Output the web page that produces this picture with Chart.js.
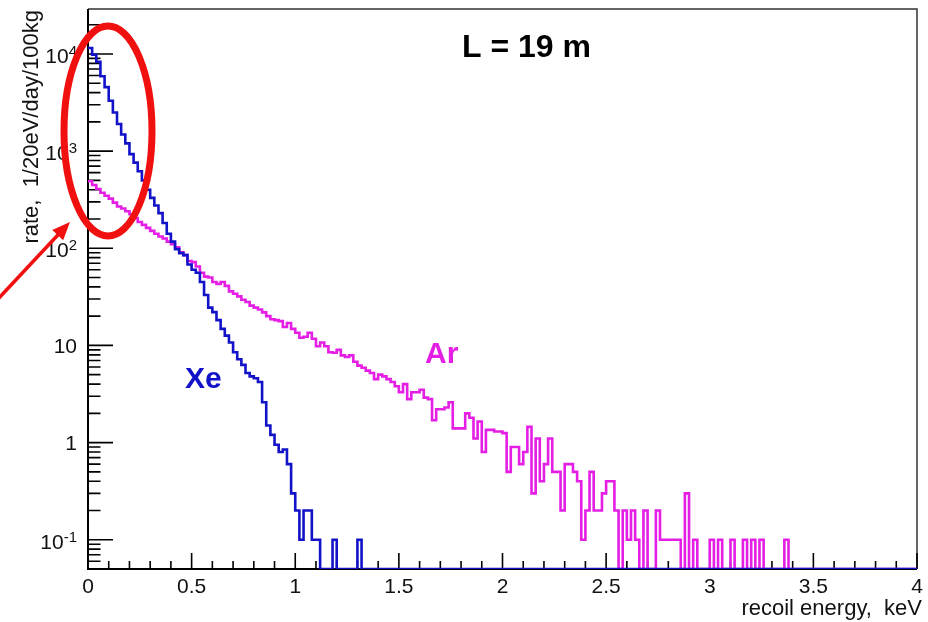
<!DOCTYPE html>
<html>
<head>
<meta charset="utf-8">
<script src="https://cdn.jsdelivr.net/npm/chart.js@4.4.1/dist/chart.umd.min.js"></script>
<style>
  html, body { margin: 0; padding: 0; background: #fff; }
  #wrap { position: relative; width: 928px; height: 622px; }
</style>
</head>
<body>
<div id="wrap"><canvas id="chart" width="928" height="622"></canvas></div>
<script>
// recoil spectrum, 20 eV bins from 0 to 4 keV
const BIN_WIDTH = 0.02
const X_MIN = 0
const X_MAX = 4
const Y_MIN = 0.05
const Y_MAX = 29000

const xeRate = [
  11500, 9800, 8300, 5900, 4550, 3300, 2500, 1900, 1480, 1200,
  930, 760, 620, 500, 400, 330, 275, 230, 182, 141,
  117, 98, 89, 85, 68, 60, 56, 45, 33, 24.5,
  22, 18.2, 14.8, 12.6, 10.7, 8.5, 7.2, 6.3, 5.2, 4.8,
  4.6, 4.2, 2.6, 1.5, 1.2, 0.95, 0.8, 0.85, 0.6, 0.3,
  0.2, 0.1, 0.2, 0.2, 0.1, 0.1, 0, 0, 0, 0.1,
  0, 0, 0, 0, 0, 0.1, 0, 0, 0, 0,
  0, 0, 0, 0, 0, 0, 0, 0, 0, 0,
  0, 0, 0, 0, 0, 0, 0, 0, 0, 0,
  0, 0, 0, 0, 0, 0, 0, 0, 0, 0,
  0, 0, 0, 0, 0, 0, 0, 0, 0, 0,
  0, 0, 0, 0, 0, 0, 0, 0, 0, 0,
  0, 0, 0, 0, 0, 0, 0, 0, 0, 0,
  0, 0, 0, 0, 0, 0, 0, 0, 0, 0,
  0, 0, 0, 0, 0, 0, 0, 0, 0, 0,
  0, 0, 0, 0, 0, 0, 0, 0, 0, 0,
  0, 0, 0, 0, 0, 0, 0, 0, 0, 0,
  0, 0, 0, 0, 0, 0, 0, 0, 0, 0,
  0, 0, 0, 0, 0, 0, 0, 0, 0, 0,
  0, 0, 0, 0, 0, 0, 0, 0, 0, 0
]

const arRate = [
  490, 447, 407, 372, 347, 324, 295, 269, 257, 240,
  224, 204, 186, 174, 162, 151, 141, 132, 126, 117,
  110, 102, 91, 85, 74, 72, 65, 56, 51, 50,
  45, 43, 45, 41, 36, 34, 32, 29.5, 28, 25.7,
  24.5, 23.4, 21.9, 20, 18.6, 18.2, 17.8, 15.5, 17, 14.8,
  13.5, 12, 12.3, 13.5, 11.7, 9.8, 10.7, 9.8, 8.5, 8.4,
  9.0, 7.9, 7.6, 7.9, 6.8, 6.2, 5.9, 5.5, 5.2, 4.5,
  5.0, 4.8, 4.5, 4.2, 3.8, 3.3, 4.0, 2.8, 3.3, 3.3,
  3.5, 2.9, 2.8, 1.7, 2.2, 2.2, 2.3, 2.6, 1.4, 1.4,
  1.4, 2.0, 1.8, 1.1, 1.65, 0.8, 1.35, 1.35, 1.3, 1.3,
  1.25, 0.5, 0.9, 0.9, 0.6, 0.8, 1.45, 0.3, 1.1, 0.4,
  0.6, 1.1, 0.5, 0.5, 0.2, 0.6, 0.6, 0.5, 0.4, 0.1,
  0.2, 0.5, 0.2, 0.2, 0.3, 0.4, 0.4, 0.2, 0, 0.2,
  0.1, 0.2, 0.1, 0, 0.2, 0, 0, 0.2, 0.1, 0.1,
  0.1, 0.1, 0.1, 0, 0.3, 0, 0.1, 0, 0, 0,
  0.1, 0, 0.1, 0, 0, 0.1, 0, 0, 0.1, 0,
  0.1, 0, 0.1, 0, 0, 0, 0, 0, 0.1, 0,
  0, 0, 0, 0, 0, 0, 0, 0, 0, 0,
  0, 0, 0, 0, 0, 0, 0, 0, 0, 0,
  0, 0, 0, 0, 0, 0, 0, 0, 0, 0
]

const xTickValues = [0, 0.5, 1, 1.5, 2, 2.5, 3, 3.5, 4]
const xTickLabels = ['0', '0.5', '1', '1.5', '2', '2.5', '3', '3.5', '4']
const yTickValues = [0.1, 1, 10, 100, 1000, 10000]
const yTickLabels = [['10', '-1'], ['1', ''], ['10', ''], ['10', '2'], ['10', '3'], ['10', '4']]

const XE_COLOR = '#1212c8'
const AR_COLOR = '#e41ee4'
const FONT = '"Liberation Sans", Arial, Helvetica, sans-serif'

// histogram outline: one point at each bin's low edge, empty bins sit on the frame bottom
function histPoints(rates) {
  const pts = rates.map((v, i) => ({ x: i * BIN_WIDTH, y: v > 0 ? v : Y_MIN }))
  pts.push({ x: rates.length * BIN_WIDTH, y: pts[pts.length - 1].y })
  return pts
}

const rootStyle = {
  id: 'rootStyle',
  beforeDatasetsDraw(chart) {
    const ctx = chart.ctx
    const { left, right, top, bottom } = chart.chartArea
    const xs = chart.scales.x
    const ys = chart.scales.y
    ctx.save()
    // frame
    ctx.strokeStyle = '#333'
    ctx.lineWidth = 1.5
    ctx.beginPath()
    ctx.moveTo(left, top)
    ctx.lineTo(right, top)
    ctx.lineTo(right, bottom)
    ctx.stroke()
    ctx.strokeStyle = '#000'
    ctx.lineWidth = 2
    ctx.beginPath()
    ctx.moveTo(left, top)
    ctx.lineTo(left, bottom)
    ctx.lineTo(right, bottom)
    ctx.stroke()

    // ticks point inward
    ctx.lineWidth = 1.6
    ctx.beginPath()
    for (let k = 0; k <= 40; k++) {
      const px = xs.getPixelForValue(k * 0.1)
      const len = k % 5 === 0 ? 16 : 8
      ctx.moveTo(px, bottom)
      ctx.lineTo(px, bottom - len)
    }
    for (let e = -2; e <= 4; e++) {
      for (let m = 1; m <= 9; m++) {
        const v = m * Math.pow(10, e)
        if (v < Y_MIN || v > Y_MAX) continue
        const py = ys.getPixelForValue(v)
        const len = m === 1 ? 25 : 12.5
        ctx.moveTo(left, py)
        ctx.lineTo(left + len, py)
      }
    }
    ctx.stroke()
    ctx.restore()
  },
  afterDraw(chart) {
    const ctx = chart.ctx
    const xs = chart.scales.x
    const ys = chart.scales.y
    ctx.save()
    ctx.fillStyle = '#111'

    // x tick labels
    ctx.font = '21px ' + FONT
    ctx.textAlign = 'center'
    ctx.textBaseline = 'alphabetic'
    xTickValues.forEach((v, i) => {
      ctx.fillText(xTickLabels[i], xs.getPixelForValue(v), 593)
    })

    // y tick labels with superscript exponents
    yTickValues.forEach((v, i) => {
      const py = ys.getPixelForValue(v)
      const [base, sup] = yTickLabels[i]
      ctx.font = '21px ' + FONT
      const wb = ctx.measureText(base).width
      ctx.font = '15px ' + FONT
      const ws = sup ? ctx.measureText(sup).width : 0
      const xr = 77
      ctx.textAlign = 'left'
      ctx.font = '21px ' + FONT
      ctx.fillText(base, xr - ws - wb, py + (sup ? 9 : 7.5))
      if (sup) {
        ctx.font = '15px ' + FONT
        ctx.fillText(sup, xr - ws, py + 2)
      }
    })

    // axis titles
    ctx.font = '22px ' + FONT
    ctx.textAlign = 'right'
    ctx.fillText('recoil energy,  keV', 922, 615)
    ctx.save()
    ctx.translate(38, 10)
    ctx.rotate(-Math.PI / 2)
    ctx.fillText('rate,  1/20eV/day/100kg', 0, 0)
    ctx.restore()

    // text labels
    ctx.textAlign = 'left'
    ctx.fillStyle = '#000'
    ctx.font = 'bold 32px ' + FONT
    ctx.fillText('L = 19 m', 462, 57)
    ctx.font = 'bold 30px ' + FONT
    ctx.fillStyle = XE_COLOR
    ctx.fillText('Xe', 185, 388)
    ctx.fillStyle = AR_COLOR
    ctx.fillText('Ar', 425, 363)

    // red annotation: ellipse around the low energy part and an arrow
    ctx.strokeStyle = '#f01010'
    ctx.fillStyle = '#f01010'
    ctx.lineWidth = 7
    ctx.beginPath()
    ctx.ellipse(108, 131, 44, 105, 0, 0, Math.PI * 2)
    ctx.stroke()

    const tipX = 70, tipY = 222, tailX = -2, tailY = 299
    const ang = Math.atan2(tipY - tailY, tipX - tailX)
    ctx.lineWidth = 3.5
    ctx.beginPath()
    ctx.moveTo(tailX, tailY)
    ctx.lineTo(tipX - 12 * Math.cos(ang), tipY - 12 * Math.sin(ang))
    ctx.stroke()
    ctx.beginPath()
    ctx.moveTo(tipX, tipY)
    ctx.lineTo(tipX - 18 * Math.cos(ang) + 7.5 * Math.sin(ang), tipY - 18 * Math.sin(ang) - 7.5 * Math.cos(ang))
    ctx.lineTo(tipX - 18 * Math.cos(ang) - 7.5 * Math.sin(ang), tipY - 18 * Math.sin(ang) + 7.5 * Math.cos(ang))
    ctx.closePath()
    ctx.fill()
    ctx.restore()
  }
}

new Chart(document.getElementById('chart'), {
  type: 'line',
  data: {
    datasets: [
      {
        label: 'Xe',
        data: histPoints(xeRate),
        borderColor: XE_COLOR,
        borderWidth: 2.6,
        stepped: 'before',
        pointRadius: 0,
        fill: false
      },
      {
        label: 'Ar',
        data: histPoints(arRate),
        borderColor: AR_COLOR,
        borderWidth: 2.6,
        stepped: 'before',
        pointRadius: 0,
        fill: false
      }
    ]
  },
  options: {
    responsive: false,
    animation: false,
    devicePixelRatio: 1,
    layout: { padding: { left: 88, right: 11, top: 9, bottom: 53 } },
    plugins: {
      legend: { display: false },
      tooltip: { enabled: false }
    },
    scales: {
      x: { type: 'linear', min: X_MIN, max: X_MAX, display: false },
      y: { type: 'logarithmic', min: Y_MIN, max: Y_MAX, display: false }
    }
  },
  plugins: [rootStyle]
})
</script>
</body>
</html>
